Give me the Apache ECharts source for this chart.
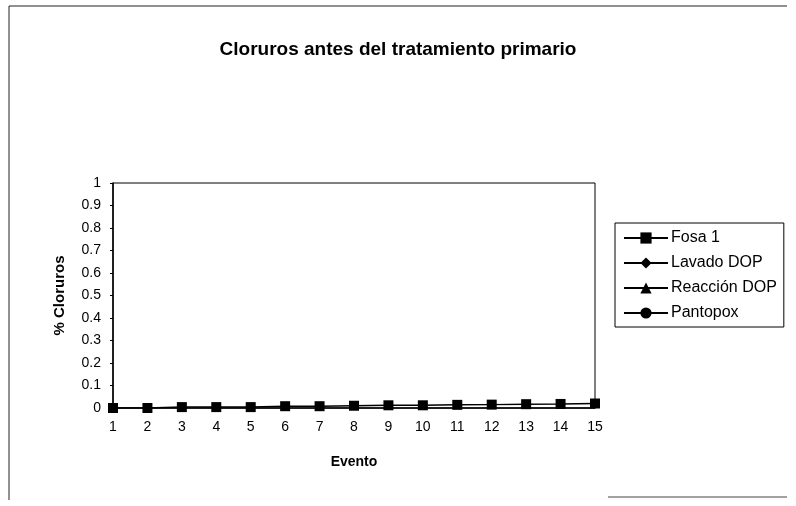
<!DOCTYPE html>
<html>
<head>
<meta charset="utf-8">
<script src="https://cdn.jsdelivr.net/npm/echarts@6/dist/echarts.min.js"></script>
<style>
html,body{margin:0;padding:0;background:#fff;}
#chart{width:796px;height:506px;}
</style>
</head>
<body>
<div id="chart"></div>
<script>
var categories = ['1','2','3','4','5','6','7','8','9','10','11','12','13','14','15'];
var fosa1 = [0, 0, 0.004, 0.004, 0.004, 0.008, 0.008, 0.01, 0.012, 0.012, 0.014, 0.015, 0.017, 0.018, 0.02];
var lavadoDOP = [];
var reaccionDOP = [];
var pantopox = [];
var seriesNames = ['Fosa 1', 'Lavado DOP', 'Reacción DOP', 'Pantopox'];
var symbols = ['rect', 'diamond', 'triangle', 'circle'];

var chart = echarts.init(document.getElementById('chart'));
var font = 'Liberation Sans, Arial, sans-serif';
var dataSets = [fosa1, lavadoDOP, reaccionDOP, pantopox];
var symSizes = [10, 11, 11, 10];
chart.setOption({
  animation: false,
  backgroundColor: '#fff',
  title: {
    text: 'Cloruros antes del tratamiento primario',
    left: 'center',
    top: 35,
    textStyle: {fontFamily: font, fontSize: 19, fontWeight: 'bold', color: '#000'}
  },
  legend: {
    orient: 'vertical',
    left: 615,
    top: 223,
    itemWidth: 44,
    itemHeight: 14,
    itemGap: 9,
    padding: [7, 7, 6, 8],
    borderColor: '#000',
    borderWidth: 1,
    backgroundColor: '#fff',
    textStyle: {fontFamily: font, fontSize: 16, color: '#000', padding: [0, 0, 0, -2]},
    data: seriesNames
  },
  grid: {left: 113, right: 201, top: 183, bottom: 98, show: true, borderColor: '#000', borderWidth: 1},
  xAxis: {
    type: 'category',
    data: categories,
    boundaryGap: false,
    name: 'Evento',
    nameLocation: 'middle',
    nameGap: 47,
    nameTextStyle: {fontFamily: font, fontSize: 14, fontWeight: 'bold', color: '#000'},
    axisLine: {lineStyle: {color: '#000', width: 1.5}},
    axisTick: {show: false},
    axisLabel: {fontFamily: font, fontSize: 14, color: '#000', margin: 12},
    splitLine: {show: false}
  },
  yAxis: {
    type: 'value',
    min: 0,
    max: 1,
    interval: 0.1,
    name: '% Cloruros',
    nameLocation: 'middle',
    nameGap: 46,
    nameRotate: 90,
    nameTextStyle: {fontFamily: font, fontSize: 15, fontWeight: 'bold', color: '#000'},
    axisLine: {show: true, lineStyle: {color: '#000', width: 1.5}},
    axisTick: {show: true, length: 3, lineStyle: {color: '#000'}},
    axisLabel: {fontFamily: font, fontSize: 14, color: '#000', margin: 12},
    splitLine: {show: false}
  },
  series: seriesNames.map(function (n, i) {
    return {
      name: n,
      type: 'line',
      data: dataSets[i],
      symbol: symbols[i],
      symbolSize: symSizes[i],
      showAllSymbol: true,
      itemStyle: {color: '#000'},
      lineStyle: {color: '#000', width: 1.5}
    };
  }),
  graphic: [
    {type: 'line', shape: {x1: 9, y1: 6, x2: 787, y2: 6}, style: {stroke: '#222', lineWidth: 1}, silent: true},
    {type: 'line', shape: {x1: 9, y1: 6, x2: 9, y2: 500}, style: {stroke: '#222', lineWidth: 1}, silent: true},
    {type: 'line', shape: {x1: 608, y1: 497, x2: 787, y2: 497}, style: {stroke: '#444', lineWidth: 1}, silent: true}
  ]
});
</script>
</body>
</html>
